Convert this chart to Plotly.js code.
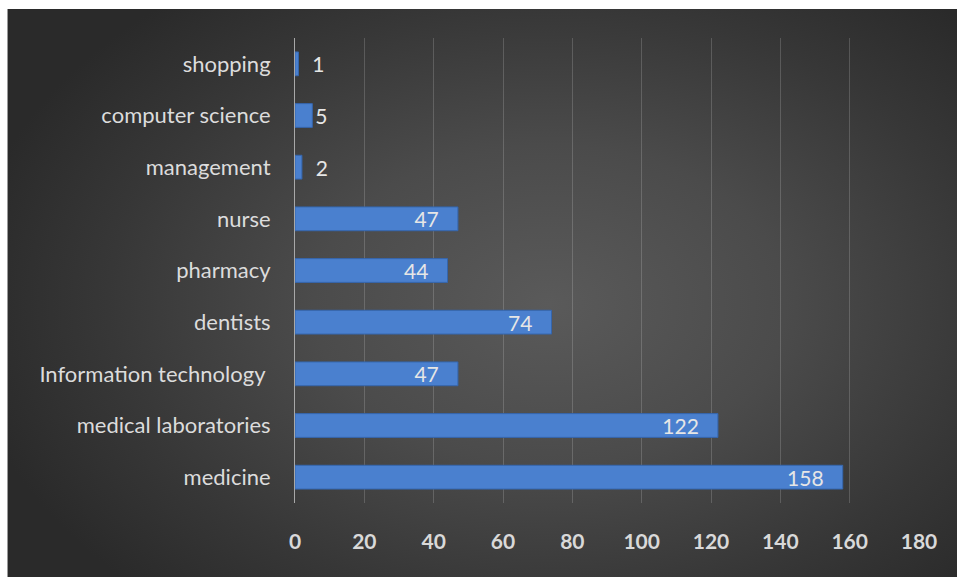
<!DOCTYPE html>
<html>
<head>
<meta charset="utf-8">
<script src="https://cdn.plot.ly/plotly-3.0.1.min.js"></script>
<style>
  html, body { margin: 0; padding: 0; background: #ffffff; }
  #frame {
    position: absolute; left: 7px; top: 9px; width: 950px; height: 568px;
    background: radial-gradient(ellipse 62% 70% at 57% 52%, #5a5a5a 0%, #4b4b4b 40%, #373737 75%, #2a2a2a 100%);
    border-left: 1px solid #9a9a9a;
  }
  #chart { position: absolute; left: 0; top: 0; width: 957px; height: 577px; }
</style>
</head>
<body>
<div id="frame"></div>
<div id="chart"></div>
<script>
const categories = ["medicine", "medical laboratories", "Information technology ", "dentists", "pharmacy", "nurse", "management", "computer science", "shopping"];
const values = [158, 122, 47, 74, 44, 47, 2, 5, 1];
const labelPositions = ["inside", "inside", "inside", "inside", "inside", "inside", "outside", "outside", "outside"];
const xTicks = [0, 20, 40, 60, 80, 100, 120, 140, 160, 180];

const NB = '\u00a0';
const labels = values.map((v, i) => labelPositions[i] === 'inside' ? (v + NB + NB + NB) : (v === 5 ? String(v) : NB + NB + v));

const labelFont = { family: 'Lato, sans-serif', size: 21, color: '#e6e6e6' };

const trace = {
  type: 'bar',
  orientation: 'h',
  y: categories,
  x: values,
  text: labels,
  textposition: labelPositions,
  insidetextanchor: 'end',
  textangle: 0,
  constraintext: 'none',
  cliponaxis: false,
  textfont: labelFont,
  insidetextfont: labelFont,
  outsidetextfont: labelFont,
  marker: { color: '#4a80cf', line: { color: '#3566ad', width: 1 } },
  width: 0.46,
  hoverinfo: 'none'
};

const layout = {
  width: 957, height: 577,
  margin: { l: 295, r: 38, t: 38, b: 74 },
  paper_bgcolor: 'rgba(0,0,0,0)',
  plot_bgcolor: 'rgba(0,0,0,0)',
  showlegend: false,
  xaxis: {
    range: [0, 180],
    tickvals: xTicks,
    ticktext: xTicks.map(String),
    showgrid: true,
    gridcolor: 'rgba(255,255,255,0.17)',
    gridwidth: 1,
    zeroline: false,
    showline: false,
    ticks: '',
    ticklabelstandoff: 24,
    tickfont: { family: 'Lato, sans-serif', size: 21, color: '#d9d9d9', weight: 'bold' },
    fixedrange: true
  },
  yaxis: {
    type: 'category',
    categoryorder: 'array',
    categoryarray: categories,
    showgrid: false,
    zeroline: false,
    showline: true,
    linecolor: '#a8a8a8',
    linewidth: 1,
    ticks: '',
    ticklabelstandoff: 19,
    tickfont: { family: 'Lato, sans-serif', size: 22, color: '#dcdcdc' },
    fixedrange: true
  }
};

Plotly.newPlot('chart', [trace], layout, { displayModeBar: false, staticPlot: true });
</script>
</body>
</html>
